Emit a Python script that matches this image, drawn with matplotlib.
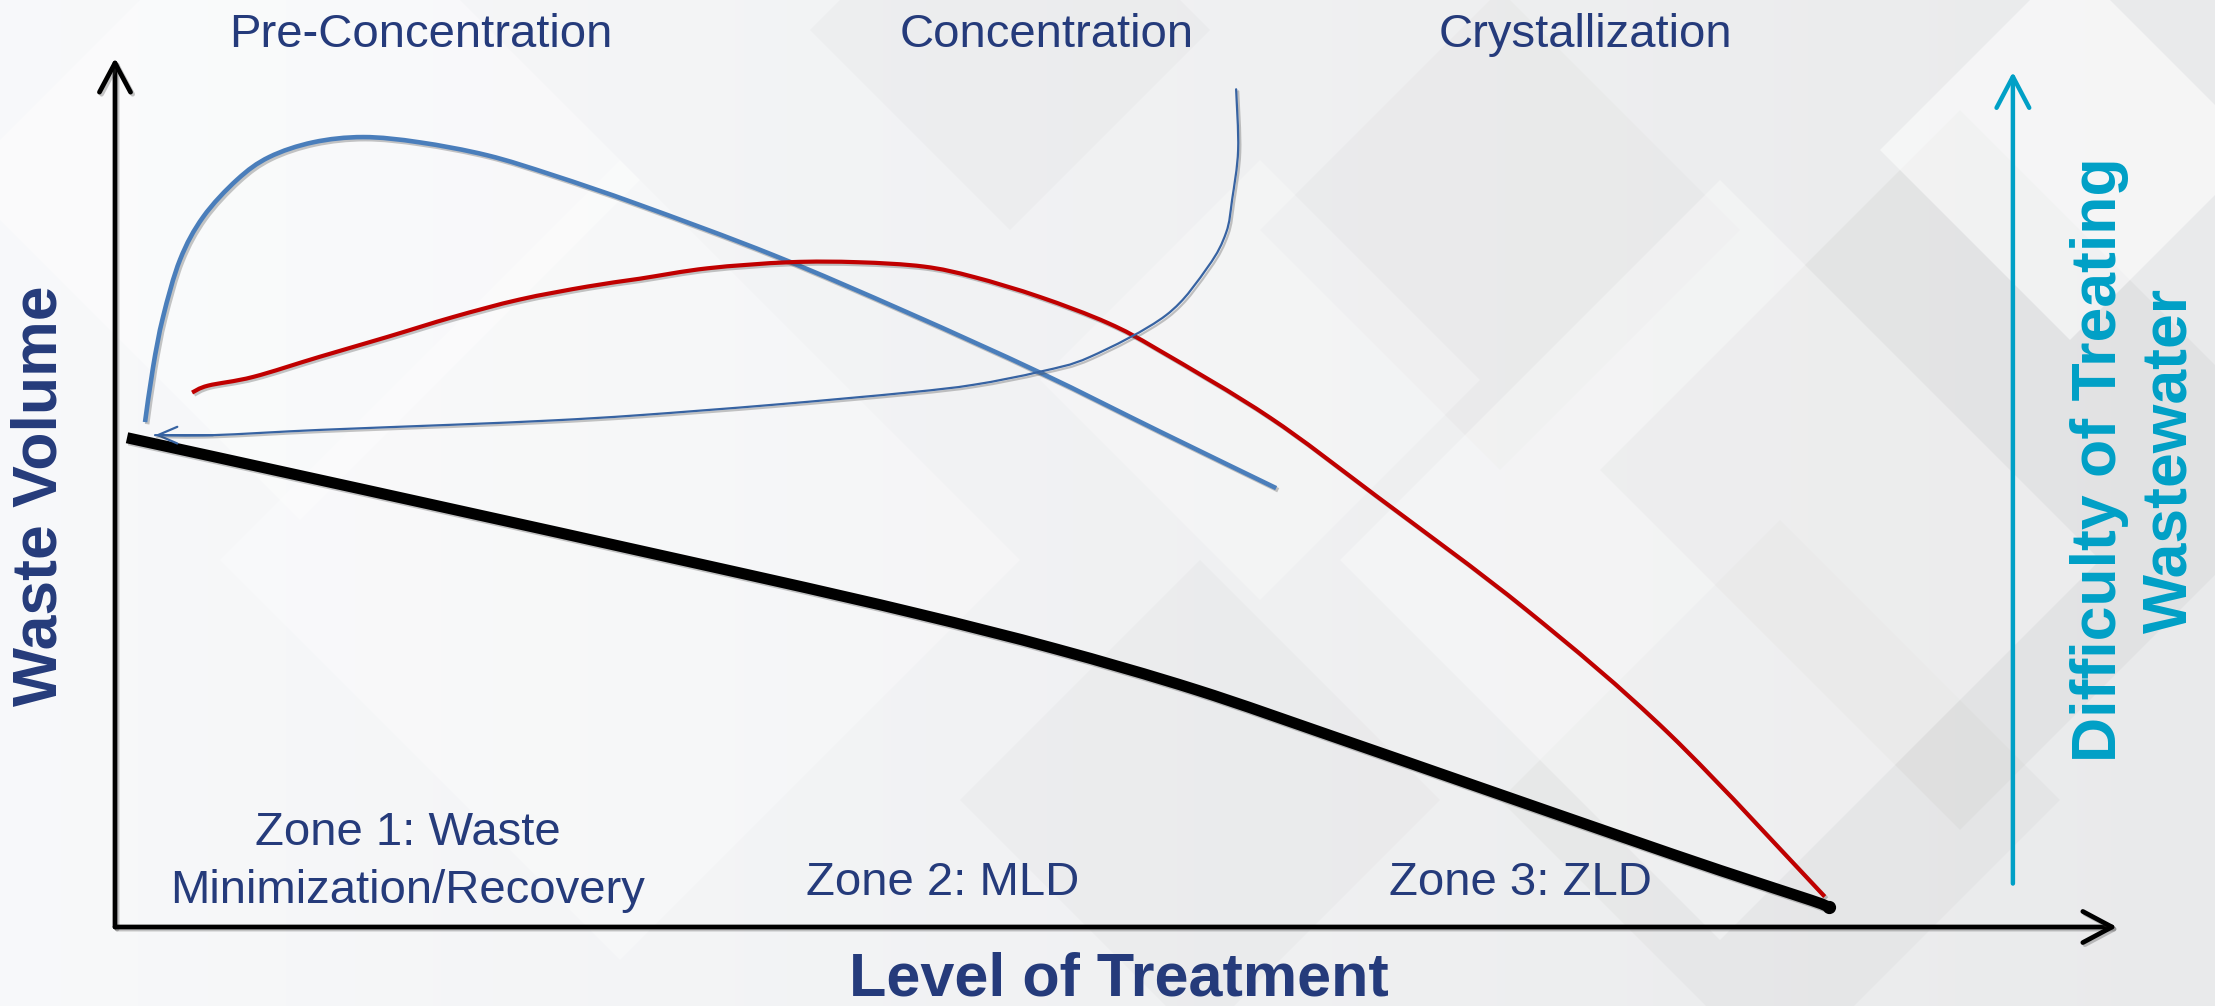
import numpy as np
import matplotlib
matplotlib.use("Agg")
import matplotlib.pyplot as plt
from matplotlib import patheffects as pe
from matplotlib.patches import Polygon, PathPatch
from matplotlib.path import Path

W, H = 2215, 1006
NAVY = "#253b7b"
TEAL = "#00a0c6"

# Curves on a 0-100 scale for both "level of treatment" and "waste volume"
waste_level = [0.6, 12.5, 31.5, 40.0, 47.0, 54.0, 61.0, 68.0, 75.0, 80.2, 84.7, 85.6]
waste_volume = [56.3, 50.3, 40.6, 36.1, 32.0, 27.3, 21.8, 16.2, 10.6, 6.5, 3.1, 2.3]

precon_level = [1.5, 1.9, 2.4, 3.25, 4.4, 6.1, 7.7, 9.9, 12.4, 15.2, 18.6, 21.9,
                26.2, 32.9, 39.6, 46.2, 52.2, 58.0]
precon_volume = [58.1, 64.4, 70.2, 76.8, 81.7, 86.0, 88.6, 90.3, 90.9, 90.3, 88.8,
                 86.5, 83.1, 77.3, 70.7, 63.8, 57.0, 50.5]

cryst_level = [3.85, 4.65, 6.9, 10.2, 13.6, 16.9, 20.2, 23.6, 26.2, 29.6, 33.7, 37.1,
               40.4, 42.9, 46.2, 49.6, 52.2, 57.7, 63.0, 70.5, 77.6, 85.4]
cryst_volume = [61.5, 62.3, 63.3, 65.6, 67.9, 70.2, 72.2, 73.7, 74.6, 75.8, 76.5, 76.5,
                76.0, 74.8, 72.5, 69.5, 66.3, 58.6, 49.6, 36.5, 22.3, 3.5]

conc_level = [56.0, 56.1, 55.8, 55.5, 54.6, 52.5, 48.7, 46.2, 42.9, 39.6, 32.9, 26.2,
              21.9, 16.9, 10.2, 4.9, 2.0]
conc_volume = [96.4, 89.4, 83.7, 79.9, 76.0, 70.4, 65.6, 63.9, 62.4, 61.5, 60.1, 58.9,
               58.3, 57.8, 57.2, 56.6, 56.6]

stage_labels = ["Pre-Concentration", "Concentration", "Crystallization"]
stage_x = [421, 1047, 1585]
zone_labels = ["Zone 1: Waste\nMinimization/Recovery", "Zone 2: MLD", "Zone 3: ZLD"]
zone_x = [408, 943, 1520]

# background diamonds: centre x, centre y, half diagonal, colour, alpha
DIAMONDS = [
    (1960, 470, 360, "#c8c8c8", 0.22),
    (1780, 800, 280, "#cdcdcd", 0.18),
    (1200, 800, 240, "#d4d4d4", 0.15),
    (1010, 30, 200, "#d4d4d4", 0.15),
    (1500, 230, 240, "#d2d2d2", 0.14),
    (1720, 560, 380, "white", 0.35),
    (2070, 150, 190, "white", 0.55),
    (620, 560, 400, "white", 0.30),
    (300, 180, 340, "white", 0.40),
    (1260, 380, 220, "white", 0.28),
]


def smooth_path(xs, ys):
    # Catmull-Rom through the points, written as cubic Bezier segments
    p = np.column_stack([xs, ys]).astype(float)
    verts = [p[0]]
    codes = [Path.MOVETO]
    n = len(p)
    for i in range(n - 1):
        p0 = p[max(i - 1, 0)]
        p1, p2 = p[i], p[i + 1]
        p3 = p[min(i + 2, n - 1)]
        verts += [p1 + (p2 - p0) / 6, p2 - (p3 - p1) / 6, p2]
        codes += [Path.CURVE4] * 3
    return Path(verts, codes)


fig = plt.figure(figsize=(W / 100, H / 100), dpi=100)

bg = fig.add_axes([0, 0, 1, 1], zorder=0)
bg.set_xlim(0, W)
bg.set_ylim(H, 0)
bg.axis("off")
left = np.array([0.972, 0.976, 0.982])
right = np.array([0.915, 0.918, 0.922])
t = np.linspace(0, 1, 256)
grad = left[None, :] * (1 - t[:, None]) + right[None, :] * t[:, None]
bg.imshow(grad[None, :, :], extent=(0, W, H, 0), aspect="auto", zorder=0)
for cx, cy, r, c, a in DIAMONDS:
    bg.add_patch(Polygon([(cx, cy - r), (cx + r, cy), (cx, cy + r), (cx - r, cy)],
                         closed=True, facecolor=c, edgecolor="none", alpha=a, zorder=1))

# stage and zone labels
for lab, x in zip(stage_labels, stage_x):
    bg.text(x, 47, lab, ha="center", va="baseline", fontsize=34,
            family="Liberation Sans", color=NAVY, zorder=3)
zone1_top, zone1_bottom = zone_labels[0].split("\n")
bg.text(zone_x[0], 845, zone1_top, ha="center", va="baseline",
        fontsize=34, family="Liberation Sans", color=NAVY, zorder=3)
bg.text(zone_x[0], 903, zone1_bottom, ha="center", va="baseline",
        fontsize=34, family="Liberation Sans", color=NAVY, zorder=3)
for lab, x in zip(zone_labels[1:], zone_x[1:]):
    bg.text(x, 895, lab, ha="center", va="baseline", fontsize=34,
            family="Liberation Sans", color=NAVY, zorder=3)

bg.text(1119, 996, "Level of Treatment", ha="center", va="baseline", fontsize=44,
        fontweight="bold", family="Liberation Sans", color=NAVY, zorder=3)
bg.text(40, 496, "Waste Volume", ha="center", va="center", rotation=90, fontsize=45,
        fontweight="bold", family="Liberation Sans", color=NAVY, zorder=3)
bg.text(2135, 460, "Difficulty of Treating\nWastewater", ha="center", va="center",
        rotation=90, fontsize=45, fontweight="bold", family="Liberation Sans",
        color=TEAL, multialignment="center", linespacing=1.25, zorder=3)

# main chart
ax = fig.add_axes([115 / W, (H - 927) / H, 2002 / W, 869 / H], zorder=2)
ax.patch.set_alpha(0)
ax.set_xlim(0, 100)
ax.set_ylim(0, 100)
for s in ax.spines.values():
    s.set_visible(False)
ax.set_xticks([])
ax.set_yticks([])

shadow = [pe.SimpleLineShadow(offset=(1.5, -1.5), shadow_color="#444444", alpha=0.3), pe.Normal()]

axis_arrow = dict(arrowstyle="->,head_length=0.75,head_width=0.4", lw=3.4, color="black",
                  mutation_scale=28, shrinkA=0, shrinkB=0, path_effects=shadow)
ax.annotate("", xy=(0, 1), xytext=(0, 0), xycoords="axes fraction", arrowprops=axis_arrow)
ax.annotate("", xy=(1, 0), xytext=(0, 0), xycoords="axes fraction", arrowprops=axis_arrow)

# difficulty arrow on the right
ax.annotate("", xy=(0.948, 0.984), xytext=(0.948, 0.05), xycoords="axes fraction",
            arrowprops=dict(arrowstyle="->,head_length=0.8,head_width=0.42", lw=3.2,
                            color=TEAL, mutation_scale=28, shrinkA=0, shrinkB=0))


def draw_curve(xs, ys, color, lw, cap="butt", z=4):
    ax.add_patch(PathPatch(smooth_path(xs, ys), facecolor="none", edgecolor=color, lw=lw,
                           capstyle=cap, joinstyle="round", path_effects=shadow, zorder=z))


draw_curve(waste_level, waste_volume, "black", 8, z=3)
ax.plot(waste_level[-1], waste_volume[-1], "o", color="black", ms=8.5, zorder=3)

draw_curve(precon_level, precon_volume, "#4a7ebb", 3.3)
draw_curve(cryst_level, cryst_volume, "#c00000", 3.0)
draw_curve(conc_level, conc_volume, "#3763a2", 1.6, cap="round")
ax.annotate("", xy=(conc_level[-1], conc_volume[-1]), xytext=(conc_level[-2], conc_volume[-2]),
            arrowprops=dict(arrowstyle="->,head_length=0.7,head_width=0.3", lw=1.6,
                            color="#3763a2", mutation_scale=20, shrinkA=0, shrinkB=0))

fig.savefig("out.png", dpi=100)
